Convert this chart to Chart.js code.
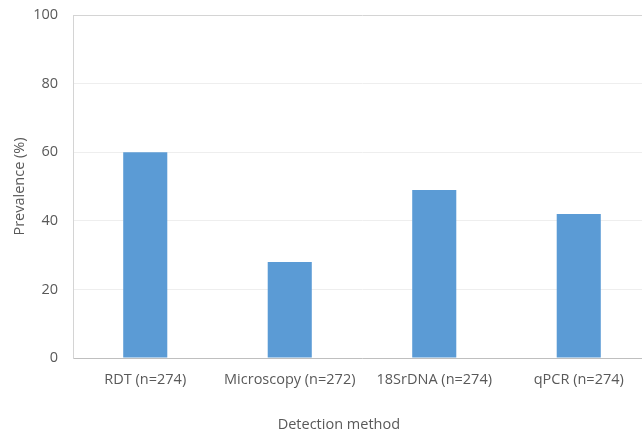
<!DOCTYPE html>
<html lang="en">
<head>
    <meta charset="UTF-8">
    <title>Prevalence by detection method</title>
    <script src="https://cdn.jsdelivr.net/npm/chart.js"></script>
    <style>
        html, body { margin: 0; padding: 0; background: #fff; overflow: hidden; }
        .chart-box { width: 660px; height: 435px; }
    </style>
</head>
<body>
    <div class="chart-box">
        <canvas id="chartPrevalencia"></canvas>
    </div>

    <script>
        const metodos = ['RDT (n=274)', 'Microscopy (n=272)', '18SrDNA (n=274)', 'qPCR (n=274)'];
        const prevalencia = [60, 28, 49, 42];
        const ticksY = [0, 20, 40, 60, 80, 100];

        const corTexto = '#595959';
        const fonte = 'Open Sans, Segoe UI, sans-serif';
        const tamFonte = 14.5;

        // x-axis title, drawn by hand so it can sit left of the scale centre
        const tituloX = {
            id: 'tituloX',
            afterDraw(chart) {
                const ctx = chart.ctx;
                const area = chart.chartArea;
                ctx.save();
                ctx.font = tamFonte + 'px ' + fonte;
                ctx.fillStyle = corTexto;
                ctx.textAlign = 'center';
                ctx.textBaseline = 'middle';
                ctx.fillText('Detection method', area.left + (area.right - area.left) * 0.46, 425);
                ctx.restore();
            }
        };

        new Chart(document.getElementById('chartPrevalencia'), {
            type: 'bar',
            data: {
                labels: metodos,
                datasets: [{
                    label: 'Prevalence (%)',
                    data: prevalencia,
                    backgroundColor: '#5b9bd5',
                    borderWidth: 0,
                    categoryPercentage: 1,
                    barPercentage: 0.305
                }]
            },
            options: {
                responsive: true,
                maintainAspectRatio: false,
                animation: false,
                layout: { padding: { top: 15, right: 9, left: 0, bottom: 0 } },
                plugins: {
                    legend: { display: false },
                    tooltip: { enabled: false }
                },
                scales: {
                    x: {
                        afterFit: s => { s.height = 77; s.paddingLeft = 0; s.paddingRight = 0; },
                        grid: { display: false, drawTicks: false },
                        border: { color: '#bfbfbf', width: 1 },
                        ticks: {
                            padding: 13,
                            color: corTexto,
                            font: { family: fonte, size: tamFonte },
                            maxRotation: 0,
                            autoSkip: false
                        }
                    },
                    y: {
                        min: 0,
                        max: 100,
                        afterFit: s => { s.width = 73; s.paddingTop = 0; s.paddingBottom = 0; },
                        afterBuildTicks: s => { s.ticks = ticksY.map(v => ({ value: v })); },
                        grid: {
                            drawTicks: false,
                            color: ctx => (ctx.tick && ctx.tick.value === 100) ? '#d4d4d4' : '#eeeeee'
                        },
                        border: { color: '#d4d4d4', width: 1 },
                        ticks: {
                            padding: 15,
                            color: corTexto,
                            font: { family: fonte, size: tamFonte }
                        },
                        title: {
                            display: true,
                            text: 'Prevalence (%)',
                            color: corTexto,
                            font: { family: fonte, size: tamFonte },
                            padding: { top: 11, bottom: 0 }
                        }
                    }
                }
            },
            plugins: [tituloX]
        });
    </script>
</body>
</html>
